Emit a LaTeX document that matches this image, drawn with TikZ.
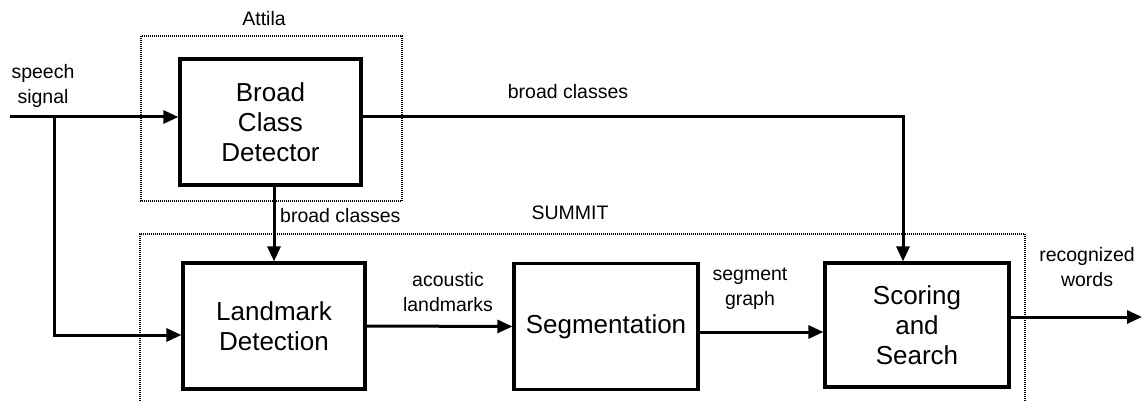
\documentclass[tikz,border=0pt]{standalone}
\usepackage{fontspec}
\setmainfont{Liberation Sans}
\usetikzlibrary{arrows.meta}
\begin{document}
\begin{tikzpicture}[x=1pt,y=-1pt,
  block/.style={draw,line width=3.2pt,minimum width=182pt,minimum height=126pt,align=center,inner sep=0pt,font=\fontsize{26}{30}\selectfont},
  lbl/.style={align=center,inner sep=0pt,font=\fontsize{19.5}{25}\selectfont},
  conn/.style={line width=3pt,-{Triangle[length=15pt,width=13pt]}},
  group/.style={line width=2pt,dash pattern=on 1pt off 1pt}]
\useasboundingbox (0,0) rectangle (1143,401);
% groups
\draw[group] (141,36) rectangle (402,201);
\draw[group] (140,401) -- (140,234) -- (1025,234) -- (1025,401);
\node[lbl] (attila) at (264,19) {Attila};
\node[lbl] (summit) at (570,213) {SUMMIT};
% blocks
\node[block,minimum width=181pt] (bcd) at (270.5,122) {Broad\\Class\\Detector};
\node[block] (lm) at (274,326) {Landmark\\Detection};
\node[block,minimum width=184pt] (seg) at (606,326.5) {Segmentation};
\node[block,minimum width=184pt,minimum height=124pt] (ss) at (917,325) {Scoring\\and\\Search};
% coordinates
\coordinate (in) at (10,117);
\coordinate (br) at (54,117);
\coordinate (out) at (1142,317);
\coordinate (sgy) at ([yshift=-5.5pt]seg.east);
% labels
\node[lbl] (sp) at (43,86) {speech\\signal};
\node[lbl] (bc1) at (568,92) {broad classes};
\node[lbl,anchor=west] (bc2) at (280,216) {broad classes};
\node[lbl] (al) at (448,292) {acoustic\\landmarks};
\node[lbl] (sg) at (750,289) {segment\\graph};
\node[lbl] (rw) at (1087,267) {recognized\\words};
% connectors
\draw[conn] (in) -- (bcd.west |- in);
\draw[conn] (br) |- ([yshift=-9pt]lm.west);
\draw[conn] (bcd.south -| lm.north) -- (lm.north);
\draw[conn] (bcd.east |- in) -| ([xshift=-14pt]ss.north);
\draw[conn] (lm.east) -- (seg.west);
\draw[conn] (sgy) -- (sgy -| ss.west);
\draw[conn] (ss.east |- out) -- (out);
\end{tikzpicture}
\end{document}
